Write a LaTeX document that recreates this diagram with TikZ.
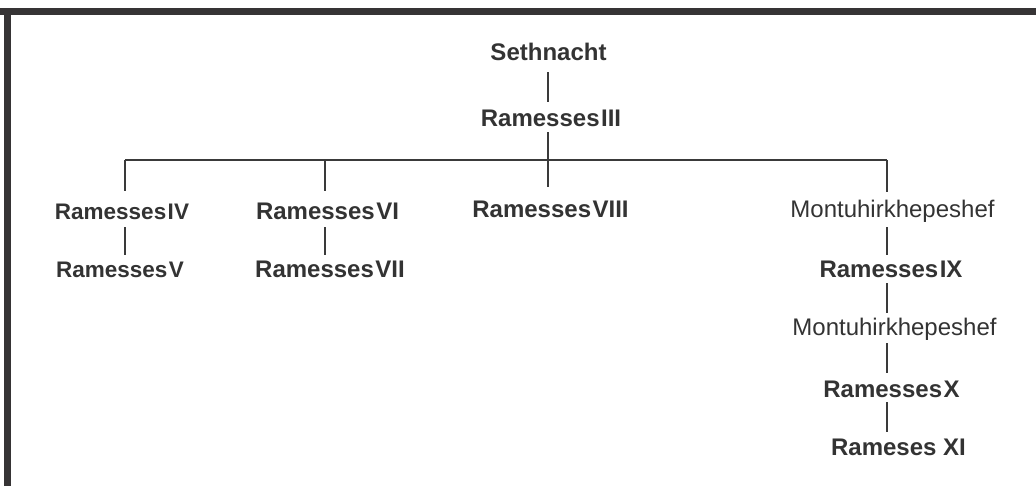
\documentclass[tikz,border=0pt]{standalone}
\usepackage{fontspec}
\setmainfont{Liberation Sans}
\usetikzlibrary{calc}
\definecolor{frame}{HTML}{363435}
\definecolor{ink}{HTML}{333333}
\definecolor{wire}{HTML}{3A3A3A}
\begin{document}
\begin{tikzpicture}[x=1pt,y=-1pt,
  kname/.style={anchor=base,inner sep=0pt,text height=17pt,text depth=0pt,text=ink,font=\fontsize{24}{28}\selectfont\bfseries},
  ksmall/.style={kname,font=\fontsize{22.5}{27}\selectfont\bfseries},
  kplain/.style={kname,font=\fontsize{24}{28}\selectfont},
  conn/.style={draw=wire,line width=1.8pt}]
\useasboundingbox (0,0) rectangle (1036,486);
% frame bands
\fill[frame] (0,8) rectangle (1036,15);
\fill[frame] (4,8) rectangle (11,486);
% column coordinates
\coordinate (c1) at (125,160);
\coordinate (c2) at (325,160);
\coordinate (c3) at (548,160);
\coordinate (c4) at (887,160);
% nodes
\node[kname] (seth) at (548.5,61) {Sethnacht};
\node[kname] (r3) at (551,127) {Ramesses\hspace{1.5pt}III};
\node[ksmall] (r4) at (122,220) {Ramesses\hspace{1.5pt}IV};
\node[ksmall] (r5) at (120,278) {Ramesses\hspace{1.5pt}V};
\node[kname] (r6) at (327.5,220) {Ramesses\hspace{1.5pt}VI};
\node[kname] (r7) at (330,278) {Ramesses\hspace{1.5pt}VII};
\node[kname] (r8) at (550.5,218) {Ramesses\hspace{1.5pt}VIII};
\node[kplain] (m1) at (892.5,218) {Montuhirkhepeshef};
\node[kname] (r9) at (891,278) {Ramesses\hspace{1.5pt}IX};
\node[kplain] (m2) at (894.5,335) {Montuhirkhepeshef};
\node[kname] (r10) at (891.5,397) {Ramesses\hspace{1.5pt}X};
\node[kname] (r11) at (898.5,455) {Rameses XI};
% connectors
\draw[conn] ($(seth.south -| c3)+(0,11)$) -- ($(r3.north -| c3)+(0,-8)$);
\draw[conn] ($(r3.south -| c3)+(0,5)$) -- ($(r8.north -| c3)+(0,-14)$);
\draw[conn] (c1) -- (c4);
\draw[conn] (c1) -- ($(r4.north -| c1)+(0,-12)$);
\draw[conn] (c2) -- ($(r6.north -| c2)+(0,-12)$);
\draw[conn] (c4) -- ($(m1.north -| c4)+(0,-9)$);
\draw[conn] ($(r4.south -| c1)+(0,7)$) -- ($(r5.north -| c1)+(0,-6)$);
\draw[conn] ($(r6.south -| c2)+(0,7)$) -- ($(r7.north -| c2)+(0,-6)$);
\draw[conn] ($(m1.south -| c4)+(0,9)$) -- ($(r9.north -| c4)+(0,-6)$);
\draw[conn] ($(r9.south -| c4)+(0,5)$) -- ($(m2.north -| c4)+(0,-5)$);
\draw[conn] ($(m2.south -| c4)+(0,8)$) -- ($(r10.north -| c4)+(0,-7)$);
\draw[conn] ($(r10.south -| c4)+(0,5)$) -- ($(r11.north -| c4)+(0,-6)$);
\end{tikzpicture}
\end{document}
